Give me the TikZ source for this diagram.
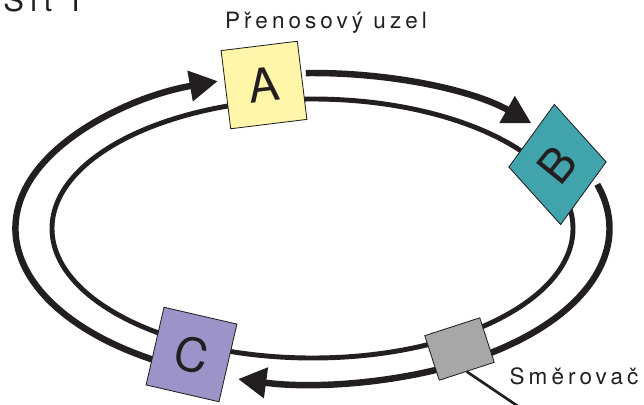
\documentclass[tikz,border=0pt]{standalone}
\usepackage{fontspec}
\setmainfont{TeX Gyre Heros}
\newfontfamily\labelfont[LetterSpace=18]{TeX Gyre Heros}
\usetikzlibrary{arrows.meta,shapes.geometric}

\definecolor{inkblack}{HTML}{231F20}
\definecolor{fillA}{HTML}{FFF6AA}
\definecolor{fillB}{HTML}{41A3AC}
\definecolor{fillC}{HTML}{9C94C8}
\definecolor{fillR}{HTML}{A6A7A9}

\tikzset{
  outerring/.style={draw=inkblack, line width=4.6pt},
  innerring/.style={draw=inkblack, line width=3.5pt},
  flowtip/.style={-{Triangle[length=20pt,width=21pt]}},
  station/.style={draw=inkblack, line width=0.6pt, inner sep=0pt,
    font=\fontsize{33}{33}\selectfont, text=inkblack},
  caption/.style={font=\labelfont\fontsize{16}{16}\selectfont,
    text=inkblack, inner sep=0pt, anchor=base},
}

\begin{document}
\begin{tikzpicture}[x=0.025cm, y=0.025cm]
\useasboundingbox (0,0) rectangle (644,404);

\coordinate (ctr) at (312.5,175.5);

% inner ring in one piece
\draw[innerring] (ctr) ellipse [x radius=260.5, y radius=129.5];

% outer ring, one arc per hop
\path (ctr) ++(245:297 and 155.5) coordinate (oC);
\path (ctr) ++(91.3:297 and 155.5) coordinate (oA);
\path (ctr) ++(16.5:297 and 155.5) coordinate (oB);
\path (ctr) ++(-62:297 and 155.5) coordinate (oR);

\draw[outerring, flowtip] (oC) arc [start angle=245, end angle=108.6, x radius=297, y radius=155.5];
\draw[outerring, flowtip] (oA) arc [start angle=91.3, end angle=42.5, x radius=297, y radius=155.5];
\draw[outerring] (oB) arc [start angle=16.5, end angle=-56, x radius=297, y radius=155.5];
\draw[outerring, flowtip] (oR) arc [start angle=-62, end angle=-104.5, x radius=297, y radius=155.5];

% stations
\node[station, fill=fillA, minimum width=54.6pt, minimum height=56pt, rotate=7] (A) at (264,319) {A};
\node[station, diamond, fill=fillB, minimum width=69.5pt, minimum height=85.8pt, rotate=3] (B) at (557.5,239.5) {\rotatebox{48}{B}};
\node[station, fill=fillC, minimum width=53.2pt, minimum height=56.7pt, rotate=-13] (C) at (191.5,49.5) {C};
\node[station, fill=fillR, minimum width=41.1pt, minimum height=33.3pt, rotate=18] (router) at (459.5,55) {};

\coordinate (feed) at (526.5,-8);
\draw[inkblack, line width=1.9pt] (router.south) -- (feed);

% labels
\node[caption] (lblA) at (326,376) {Přenosový uzel};
\node[caption] (lblR) at (574,20) {Směrovač};
\node[caption, anchor=base west, font=\labelfont\fontsize{22}{22}\selectfont] (title) at (3,393) {Síť 1};
\end{tikzpicture}
\end{document}
